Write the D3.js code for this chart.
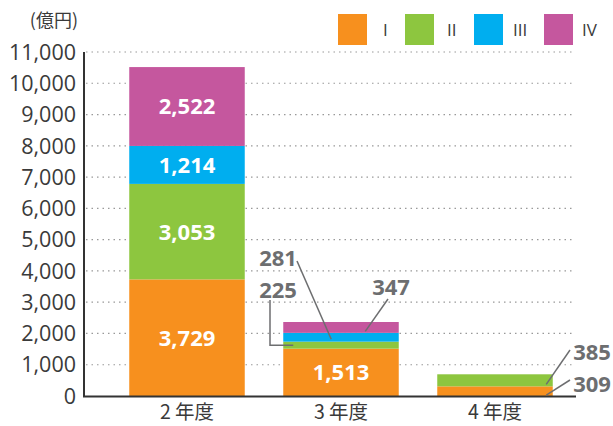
<!DOCTYPE html>
<meta charset="utf-8">
<style>
body { margin:0; background:#fff; }
text { font-family: "Noto Sans CJK JP", "Noto Sans", sans-serif; }
text.num { font-family: "Open Sans", "Noto Sans", sans-serif; }
</style>
<script src="https://d3js.org/d3.v7.min.js"></script>
<body>
<script>

var width = 613, height = 426

var years = ["2 年度", "3 年度", "4 年度"]
var seriesNames = ["I", "II", "III", "IV"]
var colors = ["#F7901E", "#8DC63F", "#00AEEF", "#C5579E"]
var valI = [3729, 1513, 309]
var valII = [3053, 225, 385]
var valIII = [1214, 281, 0]
var valIV = [2522, 347, 0]
var yTicks = [0,1000,2000,3000,4000,5000,6000,7000,8000,9000,10000,11000]

var rows = years.map((y,i)=>({year:y, I:valI[i], II:valII[i], III:valIII[i], IV:valIV[i]}))
var stack = d3.stack().keys(seriesNames)(rows)

var svg = d3.select("body").append("svg").attr("width",width).attr("height",height)

var x = d3.scaleBand().domain(years).range([110,572]).paddingInner(0.25).paddingOuter(0.125)
var y = d3.scaleLinear().domain([0,11000]).range([396,52])

// grid
svg.append("g").selectAll("line").data(yTicks.filter(d=>d>0)).enter().append("line")
  .attr("x1",86).attr("x2",575)
  .attr("y1",d=>y(d)).attr("y2",d=>y(d))
  .attr("stroke","#999").attr("stroke-width",1.2).attr("stroke-dasharray","1.5,4")

// tick labels
svg.append("g").selectAll("text").data(yTicks).enter().append("text")
  .attr("class","num")
  .attr("x",76).attr("y",d=>y(d)).attr("dy","0.36em")
  .attr("text-anchor","end").attr("font-size",21.5).attr("fill","#3a3a3a")
  .text(d=>d3.format(",")(d))

svg.append("text").attr("x",78).attr("y",27).attr("text-anchor","end")
  .attr("font-size",18).attr("fill","#3a3a3a").text("(億円)")

// bars
svg.append("g").selectAll("g").data(stack).enter().append("g")
  .attr("fill",(d,i)=>colors[i])
  .selectAll("rect").data(d=>d).enter().append("rect")
  .attr("x",d=>x(d.data.year)).attr("width",x.bandwidth())
  .attr("y",d=>y(d[1])).attr("height",d=>y(d[0])-y(d[1]))

// axes lines
svg.append("line").attr("x1",84).attr("x2",84).attr("y1",52).attr("y2",397)
  .attr("stroke","#333").attr("stroke-width",2)
svg.append("line").attr("x1",83).attr("x2",576).attr("y1",396.5).attr("y2",396.5)
  .attr("stroke","#333").attr("stroke-width",2)

// x labels
svg.append("g").selectAll("text").data(years).enter().append("text")
  .attr("x",d=>x(d)+x.bandwidth()/2).attr("y",419)
  .attr("text-anchor","middle").attr("font-size",19.5).attr("fill","#3a3a3a")
  .text(d=>d)

// inside labels
var inside = []
stack.forEach((s,si)=>s.forEach(d=>{
  if (d[1]-d[0] > 900) inside.push({year:d.data.year, mid:(d[0]+d[1])/2, v:d[1]-d[0]})
}))
svg.append("g").selectAll("text").data(inside).enter().append("text")
  .attr("class","num")
  .attr("x",d=>x(d.year)+x.bandwidth()/2).attr("y",d=>y(d.mid)).attr("dy","0.36em")
  .attr("text-anchor","middle").attr("font-size",22).attr("font-weight","bold").attr("fill","#fff")
  .text(d=>d3.format(",")(d.v))

// callouts
var gray = "#6d6e70"
function mid(si, yi){ var d = stack[si][yi]; return (d[0]+d[1])/2 }
var callouts = [
  {v:valIII[1], tx:278, ty:258, pts:[[297,261],[x(years[1])+48, y(mid(2,1))+2]]},
  {v:valII[1], tx:278, ty:290, pts:[[270,300],[270,y(mid(1,1))],[x(years[1])+10, y(mid(1,1))]]},
  {v:valIV[1], tx:391, ty:287, pts:[[388,299],[x(years[1])+82, y(mid(3,1))+4]]},
  {v:valII[2], tx:592, ty:352, pts:[[570,350],[x(years[2])+109, y(mid(1,2))+4]]},
  {v:valI[2], tx:592, ty:384, pts:[[570,380],[x(years[2])+109, y(mid(0,2))+4]]}
]
var g = svg.append("g")
callouts.forEach(c=>{
  g.append("path").attr("d",d3.line()(c.pts)).attr("fill","none")
    .attr("stroke",gray).attr("stroke-width",1.5)
  g.append("text").attr("class","num").attr("x",c.tx).attr("y",c.ty).attr("dy","0.36em")
    .attr("text-anchor","middle").attr("font-size",22).attr("font-weight","bold").attr("fill",gray)
    .text(d3.format(",")(c.v))
})

// legend
var legX = [338, 405, 474, 544]
var lg = svg.append("g").selectAll("g").data(seriesNames).enter().append("g")
  .attr("transform",(d,i)=>"translate("+legX[i]+",14)")
lg.append("rect").attr("width",29).attr("height",31).attr("fill",(d,i)=>colors[i])
lg.append("text").attr("class","num").attr("x",(d,i)=>[45,42,39,38][i]).attr("y",16).attr("dy","0.36em")
  .attr("font-size",17).attr("fill","#3a3a3a").text(d=>d)

</script>
</body>
